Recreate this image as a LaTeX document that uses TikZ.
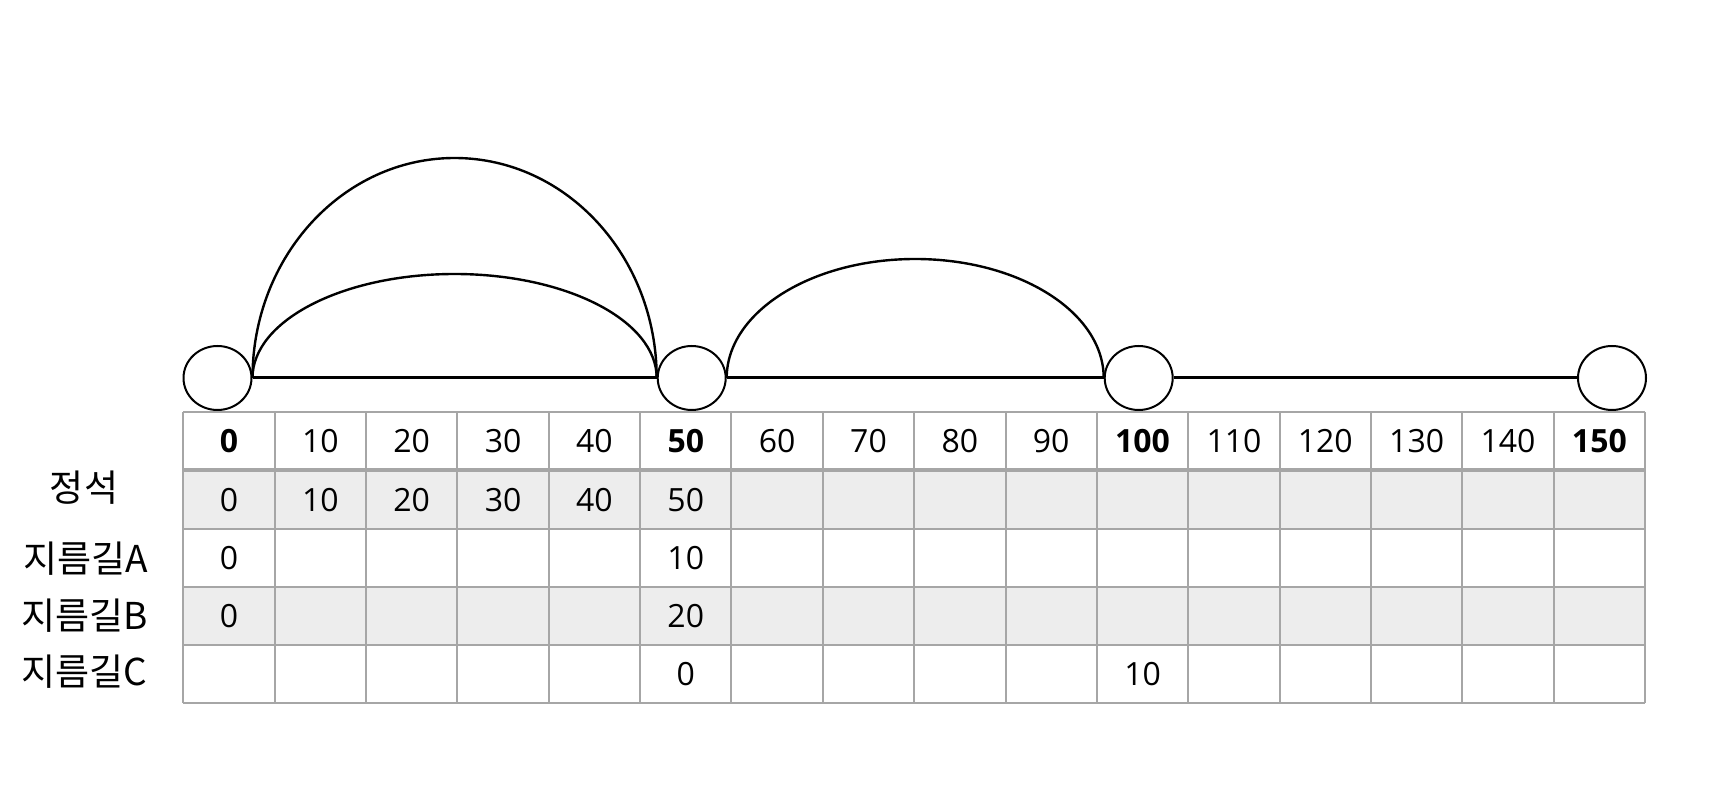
\documentclass[tikz,border=0pt]{standalone}
\usepackage{fontspec}
\setmainfont{Open Sans}
\newfontfamily\krfont{Noto Sans CJK KR}
\usetikzlibrary{shapes.geometric,calc}
\definecolor{gridgray}{HTML}{A6A6A6}
\definecolor{rowgray}{HTML}{EDEDED}
\begin{document}
\begin{tikzpicture}[x=0.5pt,y=-0.5pt,
  station/.style={draw, line width=1pt, ellipse, minimum width=34pt, minimum height=32pt, inner sep=0pt},
  track/.style={line width=1.5pt},
  jump/.style={line width=1.2pt},
  num/.style={font=\fontsize{16}{19}\selectfont, inner sep=0pt},
  bnum/.style={font=\fontsize{16}{19}\selectfont\bfseries, inner sep=0pt},
  lab/.style={font=\krfont\fontsize{18.5}{22}\selectfont, inner sep=0pt},
  tabline/.style={draw=gridgray, line width=1pt},
  tabthick/.style={draw=gridgray, line width=2pt}]
\useasboundingbox (0,0) rectangle (1715,806);
% table fills
\fill[rowgray] (183.3,470.5) rectangle (1645,529);
\fill[rowgray] (183.3,587.3) rectangle (1645,645.5);
% table lines
\foreach \yy in {412.3,529,587.3,645.5,703.5}
  \draw[tabline] (183.3,\yy) -- (1645,\yy);
\draw[tabthick] (183.3,470.4) -- (1645,470.4);
\foreach \i in {0,...,16}
  \draw[tabline] ({183.3+\i*91.36},412.3) -- ({183.3+\i*91.36},703.5);
% header
\foreach \v/\s [count=\i from 0] in {0/bnum,10/num,20/num,30/num,40/num,50/bnum,60/num,70/num,80/num,90/num,100/bnum,110/num,120/num,130/num,140/num,150/bnum}
  \node[\s] (h\v) at ({183.3+(\i+0.5)*91.36},441.4) {\v};
% row 1
\foreach \v [count=\i from 0] in {0,10,20,30,40,50}
  \node[num] (r1c\i) at ({183.3+(\i+0.5)*91.36},499.8) {\v};
% row 2
\node[num] (r2c0) at ({183.3+0.5*91.36},558.2) {0};
\node[num] (r2c5) at ({183.3+5.5*91.36},558.2) {10};
% row 3
\node[num] (r3c0) at ({183.3+0.5*91.36},616.4) {0};
\node[num] (r3c5) at ({183.3+5.5*91.36},616.4) {20};
% row 4
\node[num] (r4c5) at ({183.3+5.5*91.36},674.5) {0};
\node[num] (r4c10) at ({183.3+10.5*91.36},674.5) {10};
% row labels
\node[lab] (lab0) at (84,488) {정석};
\node[lab] (labA) at (86,559) {지름길A};
\node[lab] (labB) at (85,616) {지름길B};
\node[lab] (labC) at (84,672) {지름길C};
% stations
\node[station] (c0) at (217.5,378) {};
\node[station] (c50) at (691.7,378) {};
\node[station] (c100) at (1138.7,378) {};
\node[station] (c150) at (1612,378) {};
% tracks
\draw[track] (c0.east) -- (c50.west);
\draw[track] (c50.east) -- (c100.west);
\draw[track] (c100.east) -- (c150.west);
% shortcuts
\draw[jump] let \p1=(c0.east), \p2=(c50.west) in
  (\p1) arc[start angle=180, end angle=0, x radius={0.5*(\x2-\x1)}, y radius=110pt];
\draw[jump] let \p1=(c0.east), \p2=(c50.west) in
  (\p1) arc[start angle=180, end angle=0, x radius={0.5*(\x2-\x1)}, y radius=52pt];
\draw[jump] let \p1=(c50.east), \p2=(c100.west) in
  (\p1) arc[start angle=180, end angle=0, x radius={0.5*(\x2-\x1)}, y radius=59.5pt];
\end{tikzpicture}
\end{document}
